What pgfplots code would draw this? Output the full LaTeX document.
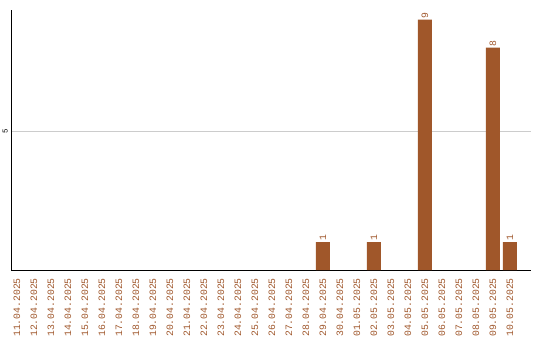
\documentclass[border=0pt]{standalone}
\usepackage{pgfplots}
\pgfplotsset{compat=1.18}
\usepackage{fontspec}
\setmainfont{Liberation Mono}
\setmonofont{Liberation Mono}
\definecolor{barc}{HTML}{A0572A}
\definecolor{labc}{HTML}{A0582D}
\definecolor{gridc}{HTML}{CCCCCC}
\begin{document}
\begin{tikzpicture}
\begin{axis}[
  at={(0,0)}, anchor=south west,
  scale only axis,
  width=520bp, height=260bp,
  xmin=-0.35, xmax=30.24,
  ymin=0, ymax=9.35,
  axis lines*=left,
  axis line style={black, line width=1bp},
  major tick length=0pt,
  xtick={0,...,29},
  xticklabels={11.04.2025,12.04.2025,13.04.2025,14.04.2025,15.04.2025,16.04.2025,17.04.2025,18.04.2025,19.04.2025,20.04.2025,21.04.2025,22.04.2025,23.04.2025,24.04.2025,25.04.2025,26.04.2025,27.04.2025,28.04.2025,29.04.2025,30.04.2025,01.05.2025,02.05.2025,03.05.2025,04.05.2025,05.05.2025,06.05.2025,07.05.2025,08.05.2025,09.05.2025,10.05.2025},
  xticklabel style={rotate=90, anchor=east, text=labc, font=\fontsize{9.8}{10}\selectfont, inner sep=0pt},
  /pgf/number format/assume math mode=true,
  ytick={5},
  yticklabel style={rotate=90, anchor=south, font=\fontsize{7.5}{8}\selectfont, inner sep=0pt},
  yticklabel shift=3bp,
  xticklabel shift=8bp,
  ymajorgrids,
  grid style={gridc, line width=0.8bp},
  nodes near coords={\pgfmathprintnumber[assume math mode=true]{\pgfplotspointmeta}},
  nodes near coords style={rotate=90, anchor=west, text=labc, font=\fontsize{9.8}{10}\selectfont, inner sep=1bp},
]
\addplot[ybar, bar width=14bp, fill=barc, draw=none] coordinates {
  (18,1) (21,1) (24,9) (28,8) (29,1)
};
\end{axis}
\path (-11bp,-70bp) rectangle (529bp,270bp);
\end{tikzpicture}
\end{document}
